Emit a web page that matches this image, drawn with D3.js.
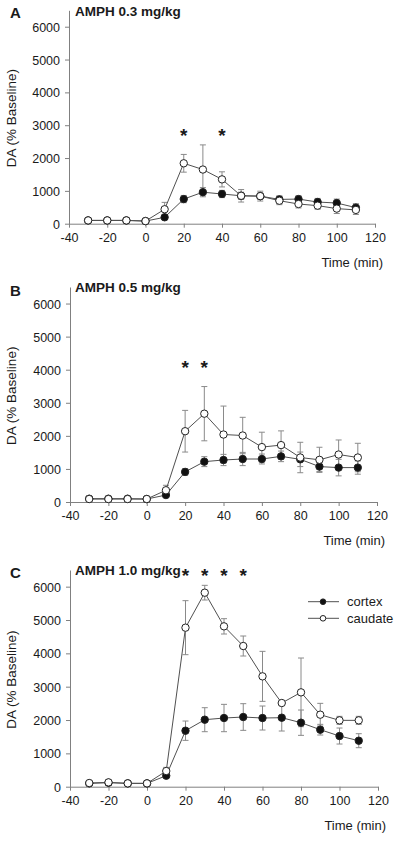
<!DOCTYPE html>
<html><head><meta charset="utf-8">
<script src="https://cdn.jsdelivr.net/npm/d3@7"></script>
<style>
html,body{margin:0;padding:0;background:#fff;}
svg{display:block;font-family:"Liberation Sans",Arial,sans-serif;}
</style></head>
<body>
<svg id="chart" width="400" height="841"></svg>
<script>
// ---- data ----
const times = [-30,-20,-10,0,10,20,30,40,50,60,70,80,90,100,110];
const xTicks = [-40,-20,0,20,40,60,80,100,120];
const yTicks = [0,1000,2000,3000,4000,5000,6000];
const panelLetters = ["A","B","C"];
const panelTitles = ["AMPH 0.3 mg/kg","AMPH 0.5 mg/kg","AMPH 1.0 mg/kg"];
const seriesNames = ["cortex","caudate"];

const cortexA  = [100,100,100,80,195,750,960,905,850,840,740,750,660,630,490];
const cortexAErr = [20,20,20,20,40,110,140,110,110,90,110,100,110,120,120];
const caudateA = [100,100,100,80,440,1840,1650,1350,850,840,700,600,550,460,420];
const caudateAErr = [20,20,20,20,210,270,750,230,190,150,120,120,110,150,140];

const cortexB  = [100,100,100,90,210,910,1220,1270,1300,1300,1380,1290,1070,1040,1040];
const cortexBErr = [20,20,20,20,50,100,150,170,200,150,160,220,150,250,200];
const caudateB = [90,90,90,90,355,2140,2670,2040,2010,1660,1720,1345,1275,1435,1345];
const caudateBErr = [20,20,20,20,150,630,820,860,550,450,430,460,380,440,430];

const cortexC  = [100,120,100,100,330,1680,2010,2060,2090,2060,2070,1920,1710,1520,1380];
const cortexCErr = [20,20,20,20,60,290,360,410,400,360,400,380,160,240,210];
const caudateC = [110,130,100,100,470,4770,5820,4810,4220,3310,2510,2830,2160,1990,1990];
const caudateCErr = [20,20,20,20,110,810,220,230,300,750,60,1030,340,120,120];

const starTimesA = [20,40];   const starLevelA = 2800;
const starTimesB = [20,30];   const starLevelB = 4170;
const starTimesC = [20,30,40,50]; const starLevelC = 6450;

// ---- layout ----
const panels = [
  {cortex:cortexA, cortexErr:cortexAErr, caudate:caudateA, caudateErr:caudateAErr, stars:starTimesA, starLevel:starLevelA,
   x0:69, x1:375, yb:223.7, yt:10.3, top:0},
  {cortex:cortexB, cortexErr:cortexBErr, caudate:caudateB, caudateErr:caudateBErr, stars:starTimesB, starLevel:starLevelB,
   x0:70, x1:377, yb:502, yt:287, top:278},
  {cortex:cortexC, cortexErr:cortexCErr, caudate:caudateC, caudateErr:caudateCErr, stars:starTimesC, starLevel:starLevelC,
   x0:70, x1:378, yb:786.7, yt:570, top:560}
];

const svg = d3.select("#chart");
const axisCol = "#808080", lineCol = "#505050", errCol = "#8a8a8a", textCol = "#1a1a1a";
const fmt = d => String(d);

panels.forEach((p, i) => {
  const g = svg.append("g");
  const x = d3.scaleLinear().domain([-40,120]).range([p.x0, p.x1]);
  const y = d3.scaleLinear().domain([0,6500]).range([p.yb, p.yt]);

  // axes
  const xa = g.append("g").attr("transform", `translate(0,${p.yb})`)
    .call(d3.axisBottom(x).tickValues(xTicks).tickFormat(fmt).tickSize(4).tickPadding(5).tickSizeOuter(0));
  const ya = g.append("g").attr("transform", `translate(${p.x0},0)`)
    .call(d3.axisLeft(y).tickValues(yTicks).tickFormat(fmt).tickSize(4).tickPadding(5).tickSizeOuter(0));
  [xa, ya].forEach(a => {
    a.select(".domain").attr("stroke", axisCol).attr("stroke-width", 1);
    a.selectAll(".tick line").attr("stroke", axisCol);
    a.selectAll(".tick text").attr("fill", textCol).style("font-size", "12.5px")
      .style("font-family", '"Liberation Sans",Arial,sans-serif');
  });
  ya.selectAll(".tick text").attr("dy", "0.36em");

  // labels
  g.append("text").attr("x", 10).attr("y", p.top + 18).text(panelLetters[i])
    .attr("fill", textCol).style("font-size", "15px").style("font-weight", "bold");
  g.append("text").attr("x", 75).attr("y", (i===0?16:(i===1?p.top+13.5:p.top+14.5))).text(panelTitles[i])
    .attr("fill", textCol).style("font-size", "13.5px").style("font-weight", "bold");
  const ymid = (p.yb + y(6000)) / 2 - 7;
  g.append("text").attr("transform", `translate(16,${ymid}) rotate(-90)`).attr("text-anchor", "middle")
    .text("DA (% Baseline)").attr("fill", textCol).style("font-size", "13.5px");
  g.append("text").attr("x", p.x1 + 8).attr("y", p.yb + 43).attr("text-anchor", "end")
    .text("Time (min)").attr("fill", textCol).style("font-size", "13px");

  // error bars
  const series = [
    {vals:p.cortex, errs:p.cortexErr, fill:"#111"},
    {vals:p.caudate, errs:p.caudateErr, fill:"#fff"}
  ];
  series.forEach(s => {
    const eg = g.append("g").attr("stroke", errCol).attr("stroke-width", 1);
    times.forEach((t, k) => {
      const cx = x(t), v = s.vals[k], e = s.errs[k];
      eg.append("line").attr("x1", cx).attr("x2", cx).attr("y1", y(v - e)).attr("y2", y(v + e));
      eg.append("line").attr("x1", cx - 3).attr("x2", cx + 3).attr("y1", y(v + e)).attr("y2", y(v + e));
      eg.append("line").attr("x1", cx - 3).attr("x2", cx + 3).attr("y1", y(v - e)).attr("y2", y(v - e));
    });
  });
  // lines
  const line = d3.line().x((d, k) => x(times[k])).y(d => y(d));
  series.forEach(s => {
    g.append("path").attr("d", line(s.vals)).attr("fill", "none").attr("stroke", lineCol).attr("stroke-width", 1);
  });
  // markers
  series.forEach(s => {
    g.append("g").selectAll("circle").data(s.vals).join("circle")
      .attr("cx", (d, k) => x(times[k])).attr("cy", d => y(d)).attr("r", 3.7)
      .attr("fill", s.fill).attr("stroke", "#222").attr("stroke-width", 1);
  });
  // stars
  g.append("g").selectAll("text").data(p.stars).join("text")
    .attr("x", d => x(d)).attr("y", y(p.starLevel) + 10).attr("text-anchor", "middle")
    .text("*").attr("fill", textCol).style("font-size", "19px").style("font-weight", "bold");

  // legend (panel C)
  if (i === 2) {
    const lg = g.append("g");
    [601.7, 618.3].forEach((ly, k) => {
      lg.append("line").attr("x1", 308).attr("x2", 339).attr("y1", ly).attr("y2", ly)
        .attr("stroke", lineCol).attr("stroke-width", 1);
      lg.append("circle").attr("cx", 323).attr("cy", ly).attr("r", 2.8)
        .attr("fill", k === 0 ? "#111" : "#fff").attr("stroke", "#222").attr("stroke-width", 1);
      lg.append("text").attr("x", 347).attr("y", ly + 4.5).text(seriesNames[k])
        .attr("fill", textCol).style("font-size", "13px");
    });
  }
});
</script>
</body></html>
